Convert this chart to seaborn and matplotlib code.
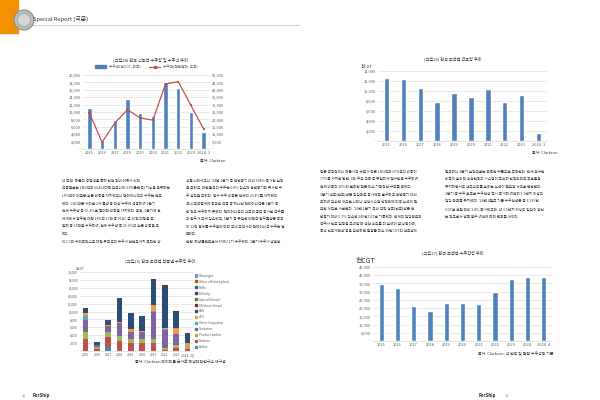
import numpy as np
import pandas as pd
import matplotlib
matplotlib.use("Agg")
import matplotlib.pyplot as plt
import seaborn as sns
from matplotlib.ticker import FuncFormatter, MultipleLocator
from matplotlib.patches import Rectangle, Ellipse
from matplotlib.lines import Line2D

# ---- data ----
years_orders = ["2015", "2016", "2017", "2018", "2019", "2020", "2021", "2022", "2023", "2024. 3"]
orders_cgt = [11000, 2300, 7900, 13400, 9700, 8900, 18200, 16600, 10100, 4500]
orders_usd = [24500, 4500, 17500, 26500, 21000, 19500, 44000, 45500, 29500, 13500]

years_build = ["2015", "2016", "2017", "2018", "2019", "2020", "2021", "2022", "2023", "2024. 3"]
build_cgt = [12700, 12400, 10600, 7800, 9600, 8900, 10500, 7800, 9200, 1700]

years_type = ["2015", "2016", "2017", "2018", "2019", "2020", "2021", "2022", "2023", "2024. 3Q"]
ship_types = ["Bulker", "Tankers", "Product tanker", "Container", "Other Cargoship", "LPG", "LNG",
              "Offshore Vessel", "Special Vessel", "Drillship", "RoRo", "Other offshore plant", "Passenger"]
type_colors = ["#4F81BD", "#C0504D", "#9BBB59", "#8064A2", "#4BACC6", "#F79646", "#2C4D75",
               "#772C2A", "#5F7530", "#4D3B62", "#276A7C", "#B65708", "#729ACA"]
bulker = [100, 0, 900, 100, 0, 0, 0, 0, 0, 0]
tankers = [3000, 600, 2700, 2400, 2050, 1900, 1900, 350, 700, 500]
product_tanker = [1600, 400, 1100, 1250, 1100, 1250, 1150, 350, 900, 500]
container = [3200, 450, 1600, 3250, 1550, 1700, 6900, 4600, 2600, 0]
other_cargo = [900, 0, 0, 0, 0, 0, 150, 250, 0, 0]
lpg = [800, 100, 200, 400, 800, 150, 1550, 150, 1700, 1100]
lng = [1300, 650, 1300, 6000, 4100, 3850, 6350, 10650, 4050, 2300]
offshore_vessel = [100, 100, 0, 0, 100, 50, 200, 250, 150, 100]
special_vessel = [0, 0, 0, 0, 0, 0, 0, 0, 0, 0]
drillship = [0, 0, 0, 0, 0, 0, 0, 0, 0, 0]
roro = [0, 0, 0, 0, 0, 0, 0, 0, 0, 0]
other_offshore = [0, 0, 0, 0, 0, 0, 0, 0, 0, 0]
passenger = [0, 0, 0, 0, 0, 0, 0, 0, 0, 0]

years_backlog = ["2015", "2016", "2017", "2018", "2019", "2020", "2021", "2022", "2023", "2024", "2024. 4"]
backlog_cgt = [34800, 32000, 21000, 18200, 23200, 23200, 22800, 30000, 38000, 38700, 39200]

text_left_1 = [
    "내 조선·해운의 경쟁력을 통해 안전 장비 이유가 있다.",
    "선종별로는 LNG선과 VLAC(대형 암모니아/LPG운반선) 기능을 보유하는",
    "LPG선이 대부분 높은 비중을 차지했으나 컨테이너선의 수주는 전무",
    "했다. LNG선은 카타르 2차 물량 등 대량 수주에 성공하여 1분기",
    "전체 수주량 중 55.4%로 절대적 비중을 차지했다. 또한, 1분기에 전",
    "세계에서 발주된 대형 LPG선 27척 중 VLAC 급 20척 대형을 포",
    "함해 총 25척을 수주하여, 전체 수주량 중 21.9%의 높은 비중을 보",
    "였다.",
    "VLCC와 수에즈막스급 대형 유조선의 수주가 전년도까지 부진한 양",
]
text_left_2 = [
    "상을 나타냈으나 '24년 1분기 중 전년동기 대비 328% 증가한 실적",
    "을 보였고, 메탄올선의 수주는 0.8% 감소해 전년동기와 유사한 수",
    "주 실적을 보였다. 탱커 수주 비중은 전체의 20.4%를 차지했다.",
    "국내 조선업계에 중요한 선종 중 하나인 컨테이너선은 1분기 중",
    "한 척도 수주하지 못했다. 컨테이너선의 신조선 공급 증가로 선주들",
    "의 발주가 크게 감소했고, 1분기 중 유일한 대형선 발주물량은 중국",
    "이 12척 전체를 수주함에 따라 국내 조선사의 컨테이너선 수주는 전",
    "무했다.",
    "한편, 해양플랜트로서 FSRU 1기 수주했다. 1분기 수주가 양호한",
]
text_right_1 = [
    "점은 긍정적이나 해운시장 규모가 작은 LNG선과 LPG선의 비중이",
    "77%를 차지한 반면, 3대 주요 선종 중 유일하게 탱커만을 수주하여",
    "전체 비중의 20%에 불과한 점은 다소 기형적인 구조를 보였다.",
    "1분기 건조(인도)량은 일감확보 증가에도 불구하고 전년동기 대비",
    "오히려 감소한 것으로 나타나 생산시스템 안정화에 더욱 노력이 필",
    "요한 것으로 사료된다. '24년 1분기 국내 선박 건조(인도)량은 전",
    "년동기 대비 5.7% 감소한 245만CGT로 기록했다. 현재의 일감확보와",
    "선주사 인도 일정을 고려할 때 생산 속도를 더 높여야 할 상황이며,",
    "증속 인도계획량 등을 감안하면 월평균 최소 90만CGT의 건조량이",
]
text_right_2 = [
    "필요하나 1분기 실적으로는 부족한 수준으로 추정된다. 현재 요구된",
    "비중이 높아진 생산현장의 시스템이 조속히 안정화되고 고효율을",
    "유지하면서도 건조속도를 높이는 노력이 필요할 것으로 판단된다.",
    "1분기 중 수주 호조로 수주잔량 역시 증가해 여전히 3.5년치 이상의",
    "일감 확보를 유지했다. '24년 4월초 기준 수주잔량은 총 3,939만",
    "CGT로 전월 대비 1.4% 증가했으며, 약 3.5년치 이상의 일감이 쌓인",
    "는 척도로서 향후 발주 여건에 따라 변동될 것이다.",
]

# ---- style ----
sns.set_theme(style="white")
plt.rcParams["font.family"] = ["Noto Sans CJK KR", "DejaVu Sans"]
BAR = "#4F81BD"
TXT = "#595959"
GRID = "#D9D9D9"

W, H = 600, 400
fig = plt.figure(figsize=(6, 4), dpi=100)


def box(x0, y0, x1, y1):
    return [x0 / W, 1 - y1 / H, (x1 - x0) / W, (y1 - y0) / H]


def fx(x):
    return x / W


def fy(y):
    return 1 - y / H


def kfmt(v, pos):
    return "-" if abs(v) < 1e-6 else f"{int(v):,}"


def style_ax(ax, fs=2.8):
    sns.despine(ax=ax, left=True, top=True, right=True)
    ax.spines["bottom"].set_color(GRID)
    ax.spines["bottom"].set_linewidth(0.5)
    ax.grid(axis="y", color=GRID, linewidth=0.4)
    ax.set_axisbelow(True)
    ax.tick_params(length=0, pad=1.5, labelsize=fs, colors=TXT)
    ax.yaxis.set_major_formatter(FuncFormatter(kfmt))
    ax.set_xlabel("")
    ax.set_ylabel("")


# ---- header / footer ----
fig.patches.append(Rectangle((0, fy(33)), fx(18), 33 / H, transform=fig.transFigure,
                             color="#F39200", zorder=1))
fig.patches.append(Ellipse((fx(24), fy(20)), 20 / W, 20 / H, transform=fig.transFigure,
                           facecolor="#BDBDBD", edgecolor="#8C8C8C", linewidth=0.8, zorder=2))
fig.patches.append(Ellipse((fx(24), fy(20)), 13 / W, 13 / H, transform=fig.transFigure,
                           facecolor="#D6D6D6", edgecolor="#9A9A9A", linewidth=0.5, zorder=3))
fig.lines.append(Line2D([fx(31), fx(300)], [fy(25), fy(25)], transform=fig.transFigure,
                        color="#D8C8A6", linewidth=0.6))
fig.text(fx(33), fy(19), "Special Report (국문)", fontsize=4.2, color="#333333", va="center")

fig.text(fx(24), fy(396), "10", fontsize=2.8, color="#888888", va="center", ha="center")
fig.text(fx(33), fy(396), "ForShip", fontsize=3.2, color="#222222", va="center",
         style="italic", weight="bold")
fig.text(fx(496), fy(396), "ForShip", fontsize=3.2, color="#222222", va="center", ha="right",
         style="italic", weight="bold")
fig.text(fx(507), fy(396), "11", fontsize=2.8, color="#888888", va="center", ha="center")

# ---- body text ----
def body(lines, x, y0, step=7.6):
    for i, s in enumerate(lines):
        fig.text(fx(x), fy(y0 + i * step), s, fontsize=2.6, color="#333333", va="center")


body(text_left_1, 62, 181)
body(text_left_2, 186, 181)
body(text_right_1, 320, 172, 7.4)
body(text_right_2, 445, 172, 7.4)

# ---- chart 1: orders ----
ax1 = fig.add_axes(box(83, 75, 210, 149))
df1 = pd.DataFrame({"year": years_orders, "cgt": orders_cgt, "usd": orders_usd})
sns.barplot(data=df1, x="year", y="cgt", color=BAR, width=0.34, saturation=1, ax=ax1)
ax1.set_ylim(0, 20000)
ax1.yaxis.set_major_locator(MultipleLocator(2000))
style_ax(ax1)
ax1b = ax1.twinx()
sns.lineplot(x=np.arange(len(years_orders)), y=orders_usd, color="#C0504D", marker="s",
             markersize=1.6, markeredgewidth=0, linewidth=0.9, ax=ax1b)
ax1b.set_ylim(0, 50000)
ax1b.yaxis.set_major_locator(MultipleLocator(5000))
style_ax(ax1b)
ax1b.grid(False)
ax1b.spines["bottom"].set_visible(False)
ax1.set_xlim(-0.5, len(years_orders) - 0.5)
ax1b.set_xlim(-0.5, len(years_orders) - 0.5)
fig.text(fx(150), fy(60), "(그림24) 한국 신조선 수주량 및 수주액 추이", fontsize=3.0,
         color="#333333", ha="center", va="center")
h1 = [Rectangle((0, 0), 1, 1, color=BAR),
      Line2D([], [], color="#C0504D", marker="s", markersize=1.6, linewidth=0.9)]
ax1.legend(h1, ["수주량(천CGT, 좌축)", "수주액(백만달러, 우축)"], loc="center",
           bbox_to_anchor=(0.5, 1.11), ncol=2, frameon=False, fontsize=2.6,
           handlelength=3.0, handleheight=0.6, columnspacing=2.5, labelcolor=TXT)
fig.text(fx(226), fy(161), "출처: Clarkson", fontsize=2.8, color="#333333", ha="right", va="center")

# ---- chart 2: deliveries ----
ax2 = fig.add_axes(box(378, 71, 547, 141))
df2 = pd.DataFrame({"year": years_build, "cgt": build_cgt})
sns.barplot(data=df2, x="year", y="cgt", color=BAR, width=0.32, saturation=1, ax=ax2)
ax2.set_ylim(0, 14000)
ax2.yaxis.set_major_locator(MultipleLocator(2000))
style_ax(ax2)
fig.text(fx(453), fy(59), "(그림26) 한국 조선업 건조량 추이", fontsize=3.0,
         color="#333333", ha="center", va="center")
fig.text(fx(367), fy(67), "천CGT", fontsize=3.0, color="#333333", ha="center", va="center")
fig.text(fx(558), fy(153), "출처: Clarkson", fontsize=2.8, color="#333333", ha="right", va="center")

# ---- chart 3: orders by ship type (stacked) ----
ax3 = fig.add_axes(box(80, 272, 193, 351))
layers = [bulker, tankers, product_tanker, container, other_cargo, lpg, lng, offshore_vessel,
          special_vessel, drillship, roro, other_offshore, passenger]
cum = np.cumsum(np.array(layers), axis=0)
for i in range(len(layers) - 1, -1, -1):
    sns.barplot(x=years_type, y=cum[i], color=type_colors[i], width=0.5, saturation=1,
                linewidth=0, ax=ax3)
ax3.set_ylim(0, 20000)
ax3.yaxis.set_major_locator(MultipleLocator(2000))
style_ax(ax3, fs=2.3)
h3 = [Rectangle((0, 0), 1, 1, color=c) for c in type_colors][::-1]
ax3.legend(h3, ship_types[::-1], loc="center left", bbox_to_anchor=(1.02, 0.5),
           frameon=False, fontsize=2.3, handlelength=0.6, handleheight=0.6,
           labelspacing=0.62, labelcolor=TXT, handletextpad=0.6, borderaxespad=0, borderpad=0)
fig.text(fx(160), fy(261), "(그림25) 한국 조선업 선종별 수주량 추이", fontsize=3.0,
         color="#333333", ha="center", va="center")
fig.text(fx(80), fy(269), "천CGT", fontsize=2.3, color=TXT, ha="center", va="center")
fig.text(fx(226), fy(362), "출처: Clarkson 데이터를 근거로 해양대학연구소 재구성", fontsize=2.8,
         color="#333333", ha="right", va="center")

# ---- chart 4: backlog ----
ax4 = fig.add_axes(box(373, 267, 552, 341))
df4 = pd.DataFrame({"year": years_backlog, "cgt": backlog_cgt})
sns.barplot(data=df4, x="year", y="cgt", color=BAR, width=0.32, saturation=1, ax=ax4)
ax4.set_ylim(0, 45000)
ax4.yaxis.set_major_locator(MultipleLocator(5000))
style_ax(ax4)
fig.text(fx(453), fy(253), "(그림27) 한국 조선업 수주잔량 추이", fontsize=3.0,
         color="#333333", ha="center", va="center")
fig.text(fx(365), fy(261), "천CGT", fontsize=5.0, color="#333333", ha="center", va="center")
fig.text(fx(553), fy(354), "출처: Clarkson, 각 연도 및 월말 수주잔량 기준", fontsize=2.8,
         color="#333333", ha="right", va="center")

fig.savefig("out.png", dpi=100)
